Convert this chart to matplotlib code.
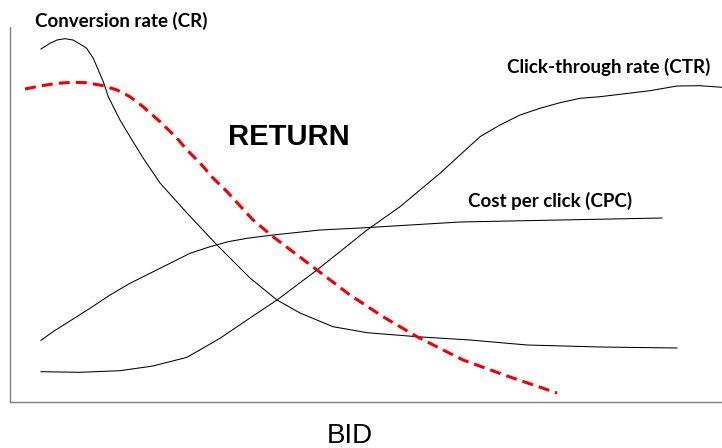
import numpy as np
import matplotlib
matplotlib.use('Agg')
import matplotlib.pyplot as plt

# curves (bid on x, value on y)
cr_x = [31, 40, 47, 55, 63, 70, 76.7, 83.3, 88.3, 93.3, 98.3, 103.3, 110, 120, 133.3, 150, 177,
        207, 230, 240, 267, 290, 323, 357, 407, 460, 517, 590, 667]
cr_y = [353, 358.7, 362, 363.3, 362, 358, 353.7, 343.7, 332, 320.3, 305.3, 295.3, 282, 265.3,
        243.7, 219, 189, 157, 134, 124, 102, 89, 75.3, 69.3, 65.3, 62, 57, 55, 54]

ret_x = [15, 30, 47, 63, 77, 93, 107, 120, 133, 150, 167, 177, 190, 203, 217, 243, 263, 307,
         340, 373, 407, 453, 500, 547]
ret_y = [313, 316, 318.7, 319.7, 319.3, 316.3, 312, 305.3, 295.3, 280.3, 263.7, 252, 239, 224,
         210.3, 182, 165.3, 132, 107, 85.3, 65.3, 42, 25, 9]

ctr_x = [31, 70, 110, 143, 177, 210, 240, 267, 307, 357, 390, 410, 430, 450, 470, 490, 510,
         530, 550, 570, 590, 640, 667, 690, 712]
ctr_y = [30.3, 29.7, 31.3, 36, 44.7, 63.7, 84, 102, 132, 172, 195.3, 212, 228.7, 247, 265.3,
         277, 287, 293.7, 299.3, 303.7, 305.3, 311.3, 316, 316.3, 314.7]

cpc_x = [31, 43, 80, 100, 120, 140, 160, 180, 200, 218.3, 237, 263, 310, 350, 450, 550, 652]
cpc_y = [61.7, 70.3, 93.7, 107, 118.7, 128.7, 138.7, 148.7, 155.3, 160.3, 163.7, 167, 172,
         174, 180, 182, 184]

labels = ['Conversion rate (CR)', 'Click-through rate (CTR)', 'Cost per click (CPC)']

fig = plt.figure(figsize=(7.22, 4.48), dpi=100)
ax = fig.add_axes([10/722, 46/448, 712/722, 375/448])

ax.plot(cr_x, cr_y, color='black', lw=0.75)
ax.plot(ctr_x, ctr_y, color='black', lw=0.75)
ax.plot(cpc_x, cpc_y, color='black', lw=0.75)
ax.plot(ret_x, ret_y, color='#ee0000', lw=2.2, linestyle=(0, (3.6, 2.0)))

ax.set_xlim(0, 712)
ax.set_ylim(0, 375)
ax.set_xticks([])
ax.set_yticks([])
for s in ['top', 'right']:
    ax.spines[s].set_visible(False)
for s in ['left', 'bottom']:
    ax.spines[s].set_color('#808080')
    ax.spines[s].set_linewidth(1.0)

lab_font = dict(family='Lato', weight='bold', fontsize=13.5, va='baseline', clip_on=False)
ax.text(25, 375, labels[0], **lab_font)
ax.text(497, 329, labels[1], **lab_font)
ax.text(458, 195, labels[2], **lab_font)

ax.text(218, 257, 'RETURN', family='Liberation Sans', weight='bold', fontsize=21,
        va='baseline')
ax.text(340, -41, 'BID', family='Liberation Sans', fontsize=20, ha='center',
        va='baseline', clip_on=False)

fig.savefig('out.png', dpi=100)
